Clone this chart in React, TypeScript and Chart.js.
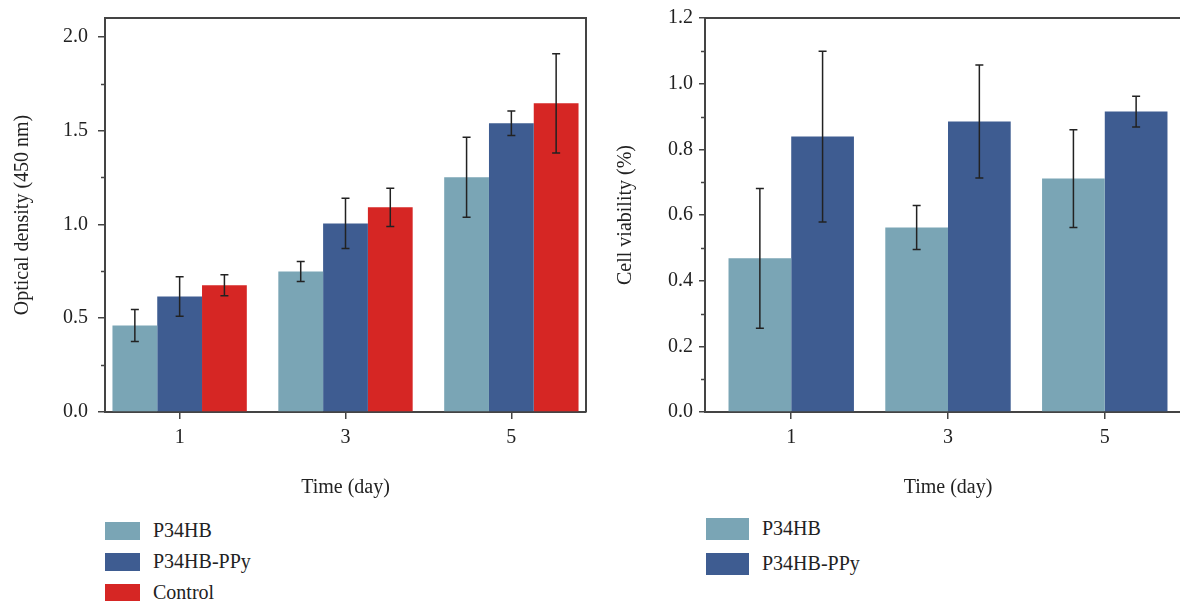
import React, { useEffect, useRef } from "react";
import { Chart, registerables } from "chart.js";
Chart.register(...registerables);

// ---------- data ----------
const dayTicks = [1, 3, 5];

const odP34HB = [0.461, 0.749, 1.251];
const odP34HBErr = [0.085, 0.053, 0.213];
const odPPy = [0.616, 1.005, 1.539];
const odPPyErr = [0.105, 0.134, 0.065];
const odControl = [0.675, 1.091, 1.645];
const odControlErr = [0.056, 0.102, 0.265];
const odTicks = [0, 0.5, 1.0, 1.5, 2.0];
const odMinorTicks = [0.25, 0.75, 1.25, 1.75];

const cvP34HB = [0.468, 0.562, 0.711];
const cvP34HBErr = [0.213, 0.067, 0.149];
const cvPPy = [0.839, 0.885, 0.915];
const cvPPyErr = [0.26, 0.172, 0.047];
const cvTicks = [0, 0.2, 0.4, 0.6, 0.8, 1.0, 1.2];
const cvMinorTicks = [0.1, 0.3, 0.5, 0.7, 0.9, 1.1];

const seriesNames = ["P34HB", "P34HB-PPy", "Control"];

const C_LIGHT = "#7aa5b5";
const C_BLUE = "#3e5c91";
const C_RED = "#d62624";
const AXIS = "#444444";
const TEXT = "#222222";
const FONT = '"Liberation Serif", "Times New Roman", serif';

Chart.defaults.font.family = FONT;
Chart.defaults.color = TEXT;

const toPts = (vals: number[]) => vals.map((v, i) => ({ x: dayTicks[i], y: v }));

const errorBarPlugin = {
  id: "errorBars",
  afterDatasetsDraw(chart: any) {
    const ctx = chart.ctx;
    const ys = chart.scales.y;
    ctx.save();
    ctx.strokeStyle = "#222";
    ctx.lineWidth = 1.5;
    chart.data.datasets.forEach((ds: any, i: number) => {
      const meta = chart.getDatasetMeta(i);
      meta.data.forEach((bar: any, j: number) => {
        const v = ds.data[j].y;
        const e = ds.errors[j];
        const x = bar.x;
        const y1 = ys.getPixelForValue(v + e);
        const y2 = ys.getPixelForValue(v - e);
        ctx.beginPath();
        ctx.moveTo(x, y1);
        ctx.lineTo(x, y2);
        ctx.moveTo(x - 4, y1);
        ctx.lineTo(x + 4, y1);
        ctx.moveTo(x - 4, y2);
        ctx.lineTo(x + 4, y2);
        ctx.stroke();
      });
    });
    ctx.restore();
  },
};

const framePlugin = {
  id: "frame",
  afterDraw(chart: any, _args: any, opts: any) {
    const ctx = chart.ctx;
    const a = chart.chartArea;
    const ys = chart.scales.y;
    ctx.save();
    ctx.strokeStyle = AXIS;
    ctx.lineWidth = 2;
    ctx.beginPath();
    ctx.moveTo(a.left - 1, a.top);
    ctx.lineTo(a.right, a.top);
    if (opts.right) {
      ctx.lineTo(a.right, a.bottom);
    }
    ctx.stroke();
    ctx.lineWidth = 1.5;
    ctx.beginPath();
    (opts.minor || []).forEach((v: number) => {
      const y = Math.round(ys.getPixelForValue(v)) + 0.5;
      ctx.moveTo(a.left - 4, y);
      ctx.lineTo(a.left, y);
    });
    ctx.stroke();
    ctx.restore();
  },
};

type PanelProps = {
  left: number;
  width: number;
  height: number;
  datasets: any[];
  yMax: number;
  yTicks: number[];
  yMinor: number[];
  yTitle: string;
  xMin: number;
  xMax: number;
  catPct: number;
  padLeft: number;
  padRight: number;
  yAxisWidth: number;
  yTickLen: number;
  yTickPad: number;
  rightBorder: boolean;
};

function BarPanel(p: PanelProps) {
  const ref = useRef<HTMLCanvasElement>(null);
  useEffect(() => {
    if (!ref.current) return;
    const chart = new Chart(ref.current, {
      type: "bar",
      data: {
        datasets: p.datasets.map((d) => ({
          label: d.label,
          data: toPts(d.values),
          errors: d.errors,
          backgroundColor: d.color,
          borderWidth: 0,
          categoryPercentage: p.catPct,
          barPercentage: 1.0,
        })) as any,
      },
      options: {
        animation: false,
        responsive: false,
        devicePixelRatio: 1,
        layout: { padding: { left: p.padLeft, top: 18, right: p.padRight, bottom: 0 } },
        plugins: {
          legend: { display: false },
          tooltip: { enabled: false },
          frame: { right: p.rightBorder, minor: p.yMinor },
        } as any,
        scales: {
          x: {
            type: "linear",
            min: p.xMin,
            max: p.xMax,
            offset: false,
            afterBuildTicks: (s: any) => {
              s.ticks = dayTicks.map((v) => ({ value: v }));
            },
            afterFit: (s: any) => {
              s.height = 92;
              s.paddingLeft = 0;
              s.paddingRight = 0;
            },
            ticks: {
              callback: (v: any) => String(v),
              font: { size: 20 },
              color: TEXT,
              padding: 7,
              maxRotation: 0,
            },
            grid: {
              display: true,
              drawOnChartArea: false,
              drawTicks: true,
              tickLength: 7,
              offset: false,
              color: AXIS,
              lineWidth: 1.5,
            },
            border: { display: true, color: AXIS, width: 2 },
            title: {
              display: true,
              text: "Time (day)",
              font: { size: 20 },
              color: TEXT,
              padding: { top: 0, bottom: 4 },
            },
          },
          y: {
            type: "linear",
            min: 0,
            max: p.yMax,
            afterBuildTicks: (s: any) => {
              s.ticks = p.yTicks.map((v) => ({ value: v }));
            },
            afterFit: (s: any) => {
              s.width = p.yAxisWidth;
              s.paddingTop = 0;
              s.paddingBottom = 0;
            },
            ticks: {
              callback: (v: any) => Number(v).toFixed(1),
              font: { size: 20 },
              color: TEXT,
              padding: p.yTickPad,
            },
            grid: {
              display: true,
              drawOnChartArea: false,
              drawTicks: true,
              tickLength: p.yTickLen,
              color: AXIS,
              lineWidth: 1.5,
            },
            border: { display: true, color: AXIS, width: 2 },
            title: {
              display: true,
              text: p.yTitle,
              font: { size: 20 },
              color: TEXT,
              padding: { top: 4, bottom: 0 },
            },
          },
        },
      } as any,
      plugins: [errorBarPlugin, framePlugin],
    });
    return () => chart.destroy();
  }, []);
  return (
    <canvas
      ref={ref}
      width={p.width}
      height={p.height}
      style={{ position: "absolute", left: p.left, top: 0, width: p.width, height: p.height }}
    />
  );
}

function Legend(props: {
  left: number;
  top: number;
  sw: number;
  sh: number;
  gap: number;
  textLeft: number;
  items: { label: string; color: string }[];
}) {
  return (
    <>
      {props.items.map((it, i) => (
        <div key={it.label}>
          <div
            style={{
              position: "absolute",
              left: props.left,
              top: props.top + i * props.gap,
              width: props.sw,
              height: props.sh,
              background: it.color,
            }}
          />
          <div
            style={{
              position: "absolute",
              left: props.textLeft,
              top: props.top + i * props.gap + props.sh / 2 - 13,
              height: 24,
              lineHeight: "24px",
              fontFamily: FONT,
              fontSize: 20,
              color: TEXT,
              whiteSpace: "nowrap",
            }}
          >
            {it.label}
          </div>
        </div>
      ))}
    </>
  );
}

export default function App() {
  const leftSets = [
    { label: seriesNames[0], values: odP34HB, errors: odP34HBErr, color: C_LIGHT },
    { label: seriesNames[1], values: odPPy, errors: odPPyErr, color: C_BLUE },
    { label: seriesNames[2], values: odControl, errors: odControlErr, color: C_RED },
  ];
  const rightSets = [
    { label: seriesNames[0], values: cvP34HB, errors: cvP34HBErr, color: C_LIGHT },
    { label: seriesNames[1], values: cvPPy, errors: cvPPyErr, color: C_BLUE },
  ];
  return (
    <div
      style={{
        position: "fixed",
        left: 0,
        top: 0,
        width: 1180,
        height: 601,
        overflow: "hidden",
        background: "#fff",
      }}
    >
      <BarPanel
        left={0}
        width={600}
        height={504}
        datasets={leftSets}
        yMax={2.1}
        yTicks={odTicks}
        yMinor={odMinorTicks}
        yTitle="Optical density (450 nm)"
        xMin={0.1}
        xMax={5.9}
        catPct={0.81}
        padLeft={7}
        padRight={14}
        yAxisWidth={98}
        yTickLen={7}
        yTickPad={10}
        rightBorder={true}
      />
      <BarPanel
        left={590}
        width={602}
        height={504}
        datasets={rightSets}
        yMax={1.2}
        yTicks={cvTicks}
        yMinor={cvMinorTicks}
        yTitle="Cell viability (%)"
        xMin={-0.1}
        xMax={6.1}
        catPct={0.8}
        padLeft={20}
        padRight={1}
        yAxisWidth={95}
        yTickLen={6}
        yTickPad={6}
        rightBorder={false}
      />
      <Legend
        left={105}
        top={522}
        sw={35}
        sh={18}
        gap={31}
        textLeft={153}
        items={leftSets.map((d) => ({ label: d.label, color: d.color }))}
      />
      <Legend
        left={706}
        top={518}
        sw={43}
        sh={22}
        gap={35}
        textLeft={762}
        items={rightSets.map((d) => ({ label: d.label, color: d.color }))}
      />
    </div>
  );
}
